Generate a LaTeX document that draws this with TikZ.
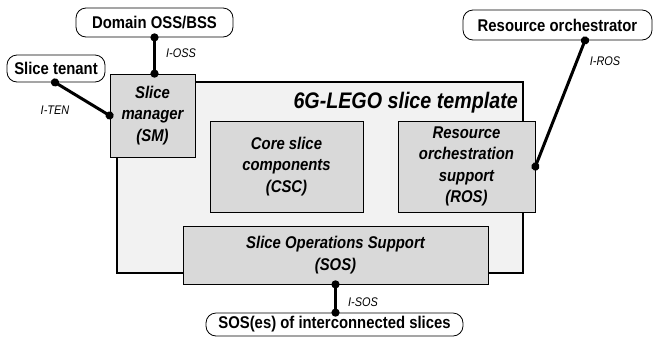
\documentclass[tikz,border=0pt]{standalone}
\usepackage{fontspec}
\setmainfont{Liberation Sans}[FakeStretch=0.875]
\usetikzlibrary{arrows.meta}
\definecolor{boxgray}{RGB}{217,217,217}
\definecolor{tmplgray}{RGB}{242,242,242}

\begin{document}
\begin{tikzpicture}[x=1pt, y=-1pt,
		part/.style={draw, fill=boxgray, line width=0.8pt, inner sep=0, align=center, font=\fontsize{17}{21.5}\selectfont\bfseries\itshape},
		actor/.style={draw, fill=white, rounded corners=10pt, line width=0.8pt, inner sep=0, font=\fontsize{17}{20}\selectfont\bfseries},
		link/.style={line width=3pt, {Circle[length=8pt]}-{Circle[length=8pt]}, shorten <=-4pt, shorten >=-4pt},
		iface/.style={font=\fontsize{12.5}{14}\selectfont\itshape}]
		\useasboundingbox (0, 0) rectangle (655, 338);
		% slice template
		\node[draw, fill=tmplgray, line width=2.5pt, inner sep=0, minimum width=406pt, minimum height=191pt] (tmpl) at (320, 177.5) {};
		\node[anchor=base east, inner sep=0, font=\fontsize{22.5}{24}\selectfont\bfseries\itshape] (title) at (518, 108) {6G-LEGO slice template};
		% parts of the template
		\node[part, minimum width=85pt, minimum height=83pt] (sm) at (152.5, 115.5) {Slice\\manager\\(SM)};
		\node[part, minimum width=153pt, minimum height=91pt] (csc) at (286.5, 166.5) {Core slice\\components\\(CSC)};
		\node[part, minimum width=137pt, minimum height=91pt] (ros) at (466.5, 166.5) {Resource\\orchestration\\support\\(ROS)};
		\node[part, minimum width=305pt, minimum height=58pt] (sos) at (335.5, 255) {Slice Operations Support\\(SOS)};
		% outside actors
		\node[actor, minimum width=157pt, minimum height=29pt] (oss) at (154.5, 22.5) {Domain OSS/BSS};
		\node[actor, minimum width=98pt, minimum height=27pt] (tenant) at (56, 68.5) {Slice tenant};
		\node[actor, minimum width=189pt, minimum height=30pt] (ro) at (557.5, 25) {Resource orchestrator};
		\node[actor, minimum width=257pt, minimum height=23pt] (peers) at (334.5, 324.5) {SOS(es) of interconnected slices};
		% interfaces
		\draw[link] (oss.south) -- (oss.south |- sm.north);
		\draw[link] ([xshift=-1pt]tenant.south) -- (sm.west);
		\draw[link] ([xshift=27.5pt]ro.south) -- (ros.east);
		\draw[link] (sos.south) -- (sos.south |- peers.north);
		\node[iface] (ioss) at (181, 53) {I-OSS};
		\node[iface] (iten) at (55, 110) {I-TEN};
		\node[iface] (iros) at (605, 61) {I-ROS};
		\node[iface] (isos) at (363, 302) {I-SOS};
	\end{tikzpicture}
\end{document}
